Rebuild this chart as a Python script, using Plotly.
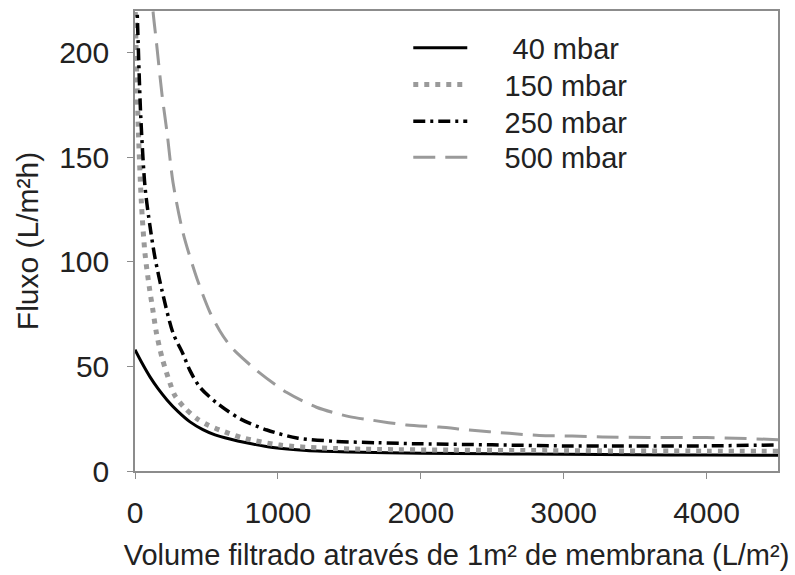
import plotly.graph_objects as go

# 40 mbar
x40 = [0, 50, 105, 160, 224, 300, 385, 475, 560, 664, 780, 965, 1200, 1500, 2000, 2500, 3000, 3500, 4000, 4500]
y40 = [58, 51.5, 45, 39.5, 34, 28.5, 23.5, 19.8, 17.3, 15.3, 13.5, 11.2, 9.8, 9.1, 8.5, 8.2, 8, 7.8, 7.6, 7.5]

# 150 mbar
x150 = [0, 10, 25, 45, 70, 100, 125, 150, 190, 245, 280, 350, 434, 510, 594, 755, 1014, 1300, 1700, 2200, 3000, 4000, 4500]
y150 = [225, 195, 160, 128, 104, 88, 77, 66, 54, 42, 36, 30, 25, 22, 19.6, 15.8, 12.4, 11, 10.3, 10, 9.7, 9.5, 9.5]

# 250 mbar
x250 = [0, 15, 40, 70, 105, 140, 190, 266, 336, 385, 455, 573, 734, 923, 1133, 1400, 1700, 2000, 2500, 3000, 3500, 4000, 4500]
y250 = [250, 220, 170, 136, 117, 102, 86, 66, 56, 48, 40, 32.5, 25, 19.6, 15.8, 14.2, 13.5, 13, 12.5, 12, 12, 12, 12.5]

# 500 mbar
x500 = [110, 126, 150, 189, 224, 266, 336, 434, 524, 594, 664, 713, 853, 1063, 1270, 1500, 1640, 1900, 2130, 2340, 2620, 2830, 3060, 3270, 3600, 4000, 4500]
y500 = [235, 220, 205, 180, 162, 138, 114, 92, 76, 67, 60, 56.5, 48, 37.5, 30.5, 26, 24.5, 22, 21, 19.6, 18, 17, 16.7, 16.3, 16, 16, 15]

labels = ["     40 mbar", "    150 mbar", "    250 mbar", "    500 mbar"]

x_ticks = [0, 1000, 2000, 3000, 4000]
y_ticks = [0, 50, 100, 150, 200]

FONT = "Liberation Sans, Arial, sans-serif"
GRAY = "#9a9a9a"
AX = "#8c8c8c"
TXT = "#222222"

fig = go.Figure()
fig.add_trace(go.Scatter(x=x40, y=y40, mode="lines", name=labels[0], legend="legend",
                         line=dict(color="black", width=3, shape="spline", smoothing=0.8)))
fig.add_trace(go.Scatter(x=x150, y=y150, mode="lines", name=labels[1], legend="legend2",
                         line=dict(color=GRAY, width=5, dash="5px,6px", shape="spline", smoothing=0.8)))
fig.add_trace(go.Scatter(x=x250, y=y250, mode="lines", name=labels[2], legend="legend3",
                         line=dict(color="black", width=3.5, dash="12px,5px,3px,5px", shape="spline", smoothing=0.8)))
fig.add_trace(go.Scatter(x=x500, y=y500, mode="lines", name=labels[3], legend="legend4",
                         line=dict(color=GRAY, width=3, dash="22px,10px", shape="spline", smoothing=0.8)))

leg_common = dict(x=0.425, xanchor="left", yanchor="middle", bgcolor="rgba(0,0,0,0)",
                  font=dict(size=29, color=TXT), itemwidth=54)

fig.update_layout(
    width=795, height=575,
    margin=dict(l=135, r=17, t=9, b=104),
    paper_bgcolor="white", plot_bgcolor="white",
    font=dict(family=FONT, size=30, color=TXT),
    showlegend=True,
    legend=dict(y=0.920, **leg_common),
    legend2=dict(y=0.840, **leg_common),
    legend3=dict(y=0.760, **leg_common),
    legend4=dict(y=0.682, **leg_common),
)
fig.update_xaxes(range=[0, 4500], tickvals=x_ticks, ticks="outside", ticklen=6,
                 tickcolor=AX, linecolor=AX, linewidth=1.5, mirror=True,
                 showgrid=False, zeroline=False, showline=True,
                 tickfont=dict(size=30, color=TXT), ticklabelstandoff=8,
                 title=dict(text="Volume filtrado através de 1m² de membrana (L/m²)",
                            font=dict(size=29, color=TXT), standoff=17))
fig.update_yaxes(range=[0, 220], tickvals=y_ticks, ticks="outside", ticklen=6,
                 tickcolor=AX, linecolor=AX, linewidth=1.5, mirror=True,
                 showgrid=False, zeroline=False, showline=True,
                 tickfont=dict(size=30, color=TXT), ticklabelstandoff=12,
                 title=dict(text="Fluxo (L/m²h)", font=dict(size=30, color=TXT), standoff=12))

fig.write_html("out.html")
